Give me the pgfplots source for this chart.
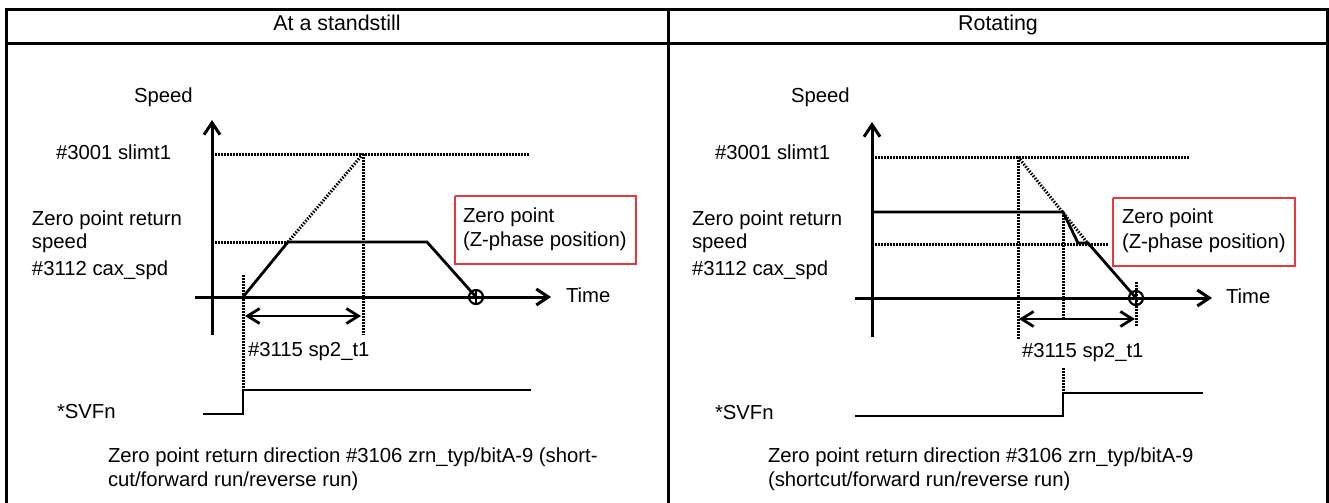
\documentclass[border=0pt]{standalone}
\usepackage{pgfplots}
\pgfplotsset{compat=1.18}
\usepackage{fontspec}
\setmainfont{Liberation Sans}
\usetikzlibrary{arrows.meta}

\definecolor{boxred}{RGB}{232,56,60}

\begin{document}
\begin{tikzpicture}[
    lbl/.style={font=\fontsize{10.15}{12}\selectfont, inner sep=0pt, outer sep=0pt, text height=0.72em, text depth=0.2em},
    ttl/.style={lbl, font=\fontsize{10.7}{12}\selectfont}]
\begin{axis}[
    name=ax,
    scale only axis,
    width=664.5pt, height=251.5pt,
    xmin=0, xmax=1329, ymin=0, ymax=503,
    y dir=reverse,
    hide axis,
    clip=false,
    axisln/.style={black, line width=1.5pt, no marks},
    curve/.style={black, line width=1.4pt, no marks, line join=miter},
    dots/.style={black, line width=1.5pt, no marks, dash pattern=on 0.75pt off 0.75pt},
    thin/.style={black, line width=1pt, no marks},
    ring/.style={black, line width=1.1pt, no marks, line join=round},
    tip/.style={-{Straight Barb[length=6pt,width=8pt,line width=1.5pt]}},
    dtip/.style={{Straight Barb[length=6pt,width=7.5pt,line width=1.4pt]}-{Straight Barb[length=6pt,width=7.5pt,line width=1.4pt]}},
  ]

% frame
\addplot[axisln] coordinates {(6,503) (6,9) (1327,9) (1327,503)};
\addplot[axisln] coordinates {(6,43) (1327,43)};
\addplot[axisln] coordinates {(668,9) (668,503)};
\node[ttl] at (axis cs:337,25) {At a standstill};
\node[ttl] at (axis cs:998,25) {Rotating};

% ---------- left panel: at a standstill ----------
\addplot[axisln, tip] coordinates {(212,335) (212,120)};
\addplot[axisln, tip] coordinates {(195,297) (551,297)};
\node[lbl, anchor=west] at (axis cs:134,97) {Speed};
\node[lbl, anchor=west] at (axis cs:566,297) {Time};
\node[lbl, anchor=west] at (axis cs:56,154) {\#3001 slimt1};
\node[lbl, anchor=west] at (axis cs:32,220) {Zero point return};
\node[lbl, anchor=west] at (axis cs:32,243) {speed};
\node[lbl, anchor=west] at (axis cs:32,270) {\#3112 cax\_spd};

\addplot[dots] coordinates {(212,154) (530,154)};
\addplot[dots] coordinates {(212,242) (288,242)};
\addplot[dots] coordinates {(288,242) (363,154)};
\addplot[dots] coordinates {(363,154) (363,335)};
\addplot[dots] coordinates {(243,275) (243,390)};

\addplot[curve] coordinates {(243,297) (288,242) (427,242) (476,297)};
% zero point marker (circle with cross)
\addplot[ring] coordinates {(483,297) (482.47,299.68) (480.95,301.95) (478.68,303.47) (476,304) (473.32,303.47) (471.05,301.95) (469.53,299.68) (469,297) (469.53,294.32) (471.05,292.05) (473.32,290.53) (476,290) (478.68,290.53) (480.95,292.05) (482.47,294.32) (483,297)};
\addplot[ring] coordinates {(476,289) (476,305)};

\addplot[curve, dtip] coordinates {(245,316) (361,316)};
\node[lbl, anchor=west] at (axis cs:248,351) {\#3115 sp2\_t1};

\addplot[thin] coordinates {(203,414) (243,414) (243,390) (531,390)};
\node[lbl, anchor=west] at (axis cs:57,413) {*SVFn};

\addplot[boxred, line width=0.9pt, no marks] coordinates {(455,196) (636,196) (636,264) (455,264) (455,196)};
\node[lbl, anchor=west] at (axis cs:463,217) {Zero point};
\node[lbl, anchor=west] at (axis cs:463,241) {(Z-phase position)};

\node[lbl, anchor=west] at (axis cs:108,457) {Zero point return direction \#3106 zrn\_typ/bitA-9 (short-};
\node[lbl, anchor=west] at (axis cs:108,481) {cut/forward run/reverse run)};

% ---------- right panel: rotating ----------
\addplot[axisln, tip] coordinates {(872,337) (872,122)};
\addplot[axisln, tip] coordinates {(855,298) (1212,298)};
\node[lbl, anchor=west] at (axis cs:791,97) {Speed};
\node[lbl, anchor=west] at (axis cs:1226,298) {Time};
\node[lbl, anchor=west] at (axis cs:715,154) {\#3001 slimt1};
\node[lbl, anchor=west] at (axis cs:692,220) {Zero point return};
\node[lbl, anchor=west] at (axis cs:692,243) {speed};
\node[lbl, anchor=west] at (axis cs:692,270) {\#3112 cax\_spd};

\addplot[dots] coordinates {(872,157) (1190,157)};
\addplot[dots] coordinates {(872,244) (1108,244)};
\addplot[dots] coordinates {(1018,157) (1090,246)};
\addplot[dots] coordinates {(1018,157) (1018,340)};
\addplot[dots] coordinates {(1063,212) (1063,320)};
\addplot[dots] coordinates {(1063,368) (1063,393)};
\addplot[dots] coordinates {(1136,282) (1136,326)};

\addplot[curve] coordinates {(872,212) (1063,212) (1078,243) (1088,243) (1136,298)};
\addplot[ring] coordinates {(1143,298) (1142.47,300.68) (1140.95,302.95) (1138.68,304.47) (1136,305) (1133.32,304.47) (1131.05,302.95) (1129.53,300.68) (1129,298) (1129.53,295.32) (1131.05,293.05) (1133.32,291.53) (1136,291) (1138.68,291.53) (1140.95,293.05) (1142.47,295.32) (1143,298)};
\addplot[ring] coordinates {(1136,290) (1136,306)};

\addplot[curve, dtip] coordinates {(1019,319) (1135,319)};
\node[lbl, anchor=west] at (axis cs:1022,352) {\#3115 sp2\_t1};

\addplot[thin] coordinates {(855,416) (1063,416) (1063,393) (1203,393)};
\node[lbl, anchor=west] at (axis cs:715,414) {*SVFn};

\addplot[boxred, line width=0.9pt, no marks] coordinates {(1113,198) (1295,198) (1295,266) (1113,266) (1113,198)};
\node[lbl, anchor=west] at (axis cs:1122,218) {Zero point};
\node[lbl, anchor=west] at (axis cs:1122,243) {(Z-phase position)};

\node[lbl, anchor=west] at (axis cs:768,457) {Zero point return direction \#3106 zrn\_typ/bitA-9};
\node[lbl, anchor=west] at (axis cs:768,481) {(shortcut/forward run/reverse run)};
\end{axis}
\pgfresetboundingbox
\path (ax.south west) rectangle (ax.north east);
\end{tikzpicture}
\end{document}
